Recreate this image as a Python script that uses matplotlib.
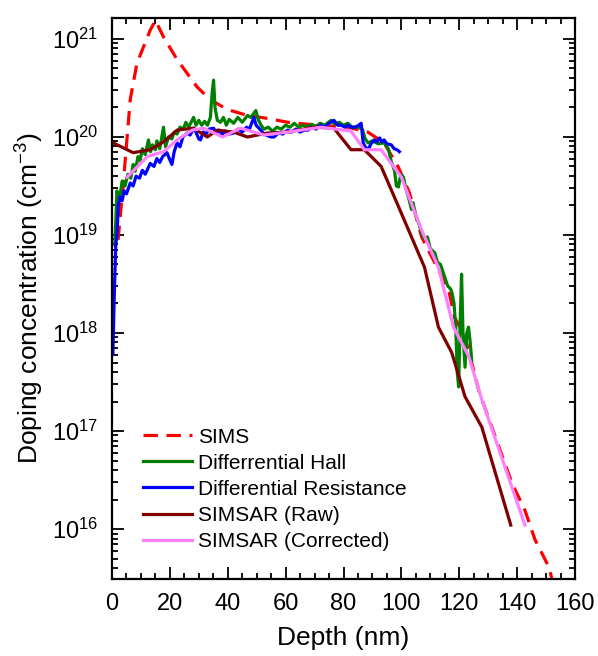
import numpy as np
import matplotlib
matplotlib.use('Agg')
import matplotlib.pyplot as plt
from matplotlib.ticker import LogLocator, MultipleLocator, NullFormatter

plt.rcParams['font.family'] = ['Liberation Sans', 'DejaVu Sans']
plt.rcParams['mathtext.fontset'] = 'custom'
plt.rcParams['mathtext.rm'] = 'Liberation Sans'
plt.rcParams['mathtext.default'] = 'regular'

# depth (nm) and log10 of concentration (cm^-3)
sims_x = [2.1, 3.8, 6.3, 8.6, 13.2, 15.0, 17.8, 22.5, 29.4, 34.0, 39.9, 46.8,
          53.7, 60.7, 71.1, 81.5, 88.4, 94.0, 99.0, 102.8, 107.0, 116.3, 118.4,
          122.0, 126.7, 128.8, 138.2, 142.7, 146.2, 151.0, 152.0]
sims_log = [18.95, 19.49, 20.38, 20.75, 21.09, 21.19, 21.02, 20.79, 20.51, 20.38,
            20.28, 20.22, 20.19, 20.15, 20.12, 20.10, 20.05, 19.94, 19.69, 19.43,
            18.98, 18.44, 18.16, 17.96, 17.42, 17.24, 16.47, 16.19, 15.89, 15.61,
            15.49]

hall_x = [1.0, 1.7, 2.5, 3.5, 4.5, 5.5, 6.5, 7.3, 8.0, 9.0, 9.7, 10.5, 11.5, 12.6,
          13.3, 14.0, 15.0, 15.5, 16.5, 17.8, 18.5, 19.5, 20.7, 21.5, 22.5, 23.5,
          24.7, 25.5, 26.5, 28.2, 29.0, 30.0, 31.0, 32.0, 33.0, 34.0, 34.6, 35.1,
          35.6, 36.4, 37.5, 38.5, 39.5, 40.5, 42.0, 43.5, 45.0, 46.8, 48.0, 49.7,
          50.5, 51.5, 52.5, 54.0, 55.5, 57.0, 58.5, 60.0, 61.5, 63.0, 64.5, 66.0,
          67.5, 69.0, 70.5, 72.0, 73.5, 75.7, 77.0, 78.5, 80.0, 81.5, 83.0, 85.0,
          86.5, 87.5, 88.5, 90.0, 92.0, 94.0, 95.5, 96.5, 97.6, 98.3, 99.0, 99.8,
          100.7, 101.5, 102.5, 103.5, 104.0, 105.0, 106.0, 107.0, 108.0, 109.0,
          110.0, 111.5, 112.5, 113.5, 115.0, 116.0, 117.0, 117.5, 118.2, 118.8,
          119.3, 119.8, 120.3, 120.8, 121.3, 122.0, 122.6, 123.2, 123.8, 124.3]
hall_log = [18.90, 19.45, 19.35, 19.55, 19.50, 19.62, 19.58, 19.72, 19.65, 19.80,
            19.76, 19.88, 19.82, 19.97, 19.85, 19.92, 19.87, 19.96, 19.88, 20.10,
            19.90, 20.00, 19.98, 20.05, 20.03, 20.10, 20.08, 20.15, 20.10, 20.20,
            20.12, 20.17, 20.12, 20.16, 20.12, 20.20, 20.45, 20.58, 20.30, 20.17,
            20.15, 20.20, 20.12, 20.18, 20.14, 20.20, 20.15, 20.22, 20.20, 20.27,
            20.18, 20.12, 20.08, 20.10, 20.06, 20.10, 20.08, 20.12, 20.10, 20.14,
            20.10, 20.12, 20.10, 20.13, 20.11, 20.14, 20.12, 20.17, 20.13, 20.15,
            20.12, 20.14, 20.10, 20.10, 20.08, 19.98, 19.94, 19.96, 19.93, 19.94,
            19.88, 19.75, 19.66, 19.50, 19.49, 19.62, 19.59, 19.48, 19.38, 19.26,
            19.33, 19.20, 19.12, 19.02, 18.96, 18.98, 18.86, 18.82, 18.72, 18.70,
            18.57, 18.48, 18.45, 18.41, 18.30, 18.05, 17.60, 17.45, 18.10, 18.60,
            18.00, 17.65, 18.00, 18.06, 17.90, 17.72]

res_x = [0.3, 0.8, 1.3, 1.7, 2.2, 2.8, 3.5, 4.2, 5.0, 6.3, 7.3, 8.3, 9.5, 10.5,
         11.5, 13.2, 14.5, 15.5, 16.5, 17.5, 19.0, 19.8, 20.7, 21.5, 22.5, 23.5,
         24.5, 25.9, 27.0, 28.2, 29.0, 30.0, 30.6, 31.5, 32.5, 33.5, 35.1, 36.0,
         37.0, 38.0, 39.0, 40.5, 42.0, 43.5, 45.0, 46.5, 47.5, 49.0, 49.8, 51.4,
         52.5, 54.0, 55.0, 56.0, 57.5, 59.0, 60.7, 62.0, 63.5, 65.0, 66.5, 67.7,
         69.0, 70.5, 72.0, 73.5, 75.0, 76.7, 78.0, 79.2, 80.5, 81.5, 82.6, 84.0,
         85.3, 86.1, 86.8, 87.5, 88.5, 89.5, 90.6, 91.5, 92.5, 93.2, 94.0, 95.0,
         96.5, 97.5, 98.5, 99.3]
res_log = [17.78, 18.40, 18.90, 19.00, 19.30, 19.39, 19.35, 19.45, 19.42, 19.53,
           19.50, 19.60, 19.58, 19.66, 19.62, 19.73, 19.70, 19.78, 19.74, 19.80,
           19.84, 19.78, 19.72, 19.85, 19.94, 19.90, 20.00, 20.04, 20.02, 20.09,
           20.05, 19.98, 19.97, 20.05, 20.03, 20.08, 20.09, 20.04, 20.07, 20.02,
           20.06, 20.03, 20.04, 20.08, 20.05, 20.10, 20.08, 20.20, 20.12, 20.07,
           20.03, 20.01, 20.00, 20.00, 20.04, 20.03, 20.07, 20.05, 20.08, 20.05,
           20.07, 20.07, 20.10, 20.08, 20.12, 20.10, 20.14, 20.17, 20.12, 20.12,
           20.10, 20.12, 20.10, 20.10, 20.12, 20.14, 19.94, 19.90, 19.87, 19.93,
           19.97, 19.95, 19.99, 19.95, 19.97, 19.93, 19.92, 19.88, 19.87, 19.85]

raw_x = [0.4, 7.3, 13.2, 17.8, 22.5, 28.2, 32.9, 36.4, 42.0, 46.8, 53.7, 60.7,
         69.8, 76.7, 78.0, 82.6, 87.2, 93.0, 99.0, 108.0, 112.8, 117.4, 122.0,
         127.8, 137.8]
raw_log = [19.94, 19.84, 19.87, 19.95, 20.07, 20.09, 20.00, 20.07, 20.05, 20.00,
           20.04, 20.05, 20.10, 20.09, 20.04, 19.87, 19.87, 19.70, 19.29, 18.67,
           18.06, 17.80, 17.35, 17.04, 16.04]

cor_x = [5.2, 12.2, 17.8, 22.5, 27.7, 31.7, 38.2, 44.4, 52.5, 60.7, 72.2, 82.6,
         87.2, 93.0, 100.0, 107.0, 112.8, 118.0, 123.3, 127.8, 142.7]
cor_log = [19.59, 19.80, 19.85, 19.97, 20.07, 20.09, 20.00, 20.09, 20.02, 20.05,
           20.10, 20.06, 19.87, 19.87, 19.59, 19.05, 18.67, 18.06, 17.76, 17.32,
           16.04]

labels = ['SIMS', 'Differrential Hall', 'Differential Resistance',
          'SIMSAR (Raw)', 'SIMSAR (Corrected)']


fig = plt.figure(figsize=(5.98, 6.56), dpi=100)
ax = fig.add_axes([112/598, 1-579/656, (575-112)/598, (579-18)/656])

lw = 2.3
ax.plot(sims_x, 10**np.array(sims_log), color='#ff0000', ls=(0, (4.5, 2.7)), lw=lw, label=labels[0])
ax.plot(hall_x, 10**np.array(hall_log), color='#008000', lw=lw, label=labels[1])
ax.plot(res_x, 10**np.array(res_log), color='#0000ff', lw=lw, label=labels[2])
ax.plot(raw_x, 10**np.array(raw_log), color='#800000', lw=lw, label=labels[3])
ax.plot(cor_x, 10**np.array(cor_log), color='#ff80ff', lw=lw, label=labels[4])

ax.set_yscale('log')
ax.set_xlim(0, 160)
ax.set_ylim(10**15.49, 10**21.214)
ax.xaxis.set_major_locator(MultipleLocator(20))
ax.xaxis.set_minor_locator(MultipleLocator(5))
ax.yaxis.set_major_locator(LogLocator(base=10, numticks=20))
ax.yaxis.set_minor_locator(LogLocator(base=10, subs=np.arange(2, 10), numticks=20))
ax.yaxis.set_minor_formatter(NullFormatter())

ax.tick_params(which='both', direction='in', top=True, right=True, width=1.3)
ax.tick_params(which='major', length=8.5, labelsize=17, pad=10)
ax.tick_params(which='minor', length=4.5)
for s in ax.spines.values():
    s.set_linewidth(1.6)

ax.set_xlabel('Depth (nm)', fontsize=19, labelpad=8)
ax.set_ylabel('Doping concentration (cm$^{-3}$)', fontsize=19, labelpad=4)

ax.legend(loc='lower left', bbox_to_anchor=(0.067, 0.05), frameon=False,
          fontsize=15, handlelength=2.35, labelspacing=0.34, handletextpad=0.3,
          borderpad=0, borderaxespad=0)

fig.savefig('out.png', dpi=100)
